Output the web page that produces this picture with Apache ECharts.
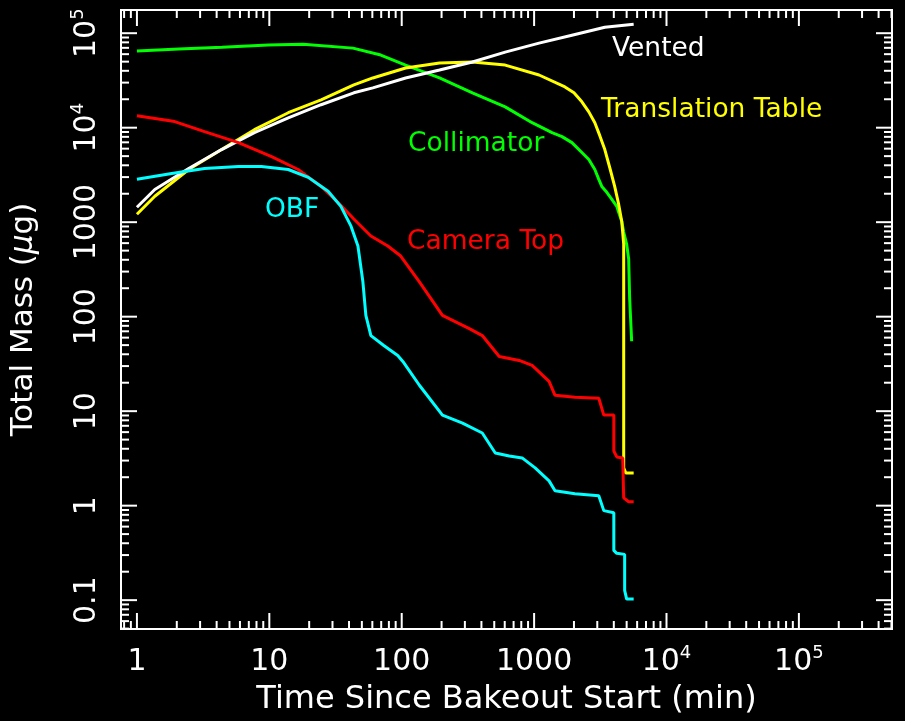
<!DOCTYPE html>
<html>
<head>
<meta charset="utf-8">
<script src="https://cdn.jsdelivr.net/npm/echarts@6/dist/echarts.min.js"></script>
<style>
  html, body { margin: 0; padding: 0; background: #000; }
  #chart { width: 905px; height: 721px; }
</style>
</head>
<body>
<div id="chart"></div>
<script>
// Time since bakeout start (min) and total outgassed mass (µg) for each component
const collimatorTime = [1, 2.07, 4.4, 9.8, 18, 42.8, 69.5, 107, 193, 342, 605, 966, 1365, 1625, 1930, 2295, 2590, 2875, 3080, 3245, 3540, 3855, 4210, 4350, 4590, 4750, 5000, 5180, 5270, 5455];
const collimatorMass = [64700, 68000, 71000, 74800, 76600, 69500, 58700, 46000, 33600, 23400, 16600, 11300, 8860, 8040, 6950, 5460, 4600, 3610, 2840, 2390, 2070, 1750, 1470, 1270, 1025, 785, 587, 408, 155, 55];

const tableTime = [1, 1.365, 2.46, 4.36, 7.71, 13.9, 24.6, 43.5, 60.5, 107, 193, 342, 605, 1090, 1710, 2000, 2295, 2590, 2875, 3135, 3420, 3725, 4060, 4350, 4590, 4750, 4750, 4750, 4750, 4920, 5650];
const tableMass = [1213, 1880, 3610, 5870, 9530, 14400, 19700, 28400, 33600, 42800, 48300, 49500, 46000, 36100, 27000, 23400, 18800, 14700, 11300, 8240, 5870, 3790, 2390, 1550, 1025, 587, 320, 36, 2.51, 2.22, 2.22];

const ventedTime = [1, 1.365, 2.46, 4.36, 7.71, 13.9, 24.6, 43.5, 60.5, 107, 193, 342, 605, 1090, 1930, 3420, 5650];
const ventedMass = [1440, 2220, 3700, 5870, 8860, 12700, 17500, 23400, 26400, 33600, 40800, 49500, 63100, 78500, 95300, 115700, 124500];

const cameraTime = [1, 1.93, 3.24, 5.85, 10.4, 16.5, 24.6, 33, 43.5, 58.5, 78.5, 98.3, 136, 203, 324, 406, 545, 771, 966, 1297, 1439, 2033, 3080, 3360, 4000, 4000, 4210, 4670, 4750, 5180, 5650];
const cameraMass = [13400, 11600, 9080, 6950, 4950, 3610, 2390, 1620, 1080, 713, 559, 438, 234, 103, 74.8, 63.1, 37.9, 34.4, 30.5, 20.7, 14.7, 14.0, 13.7, 9.08, 9.08, 3.79, 3.28, 3.2, 1.21, 1.10, 1.10];

const obfTime = [1, 1.83, 3.24, 5.85, 8.71, 13.9, 19.7, 27.8, 34.7, 41.4, 46.7, 50.9, 53.6, 58.5, 73.2, 93.3, 102, 136, 203, 288, 406, 509, 649, 812, 1018, 1297, 1439, 2033, 3080, 3360, 4000, 4000, 4210, 4830, 4830, 5000, 5650];
const obfMass = [2840, 3280, 3700, 3880, 3880, 3610, 2980, 2120, 1470, 907, 559, 234, 103, 63.1, 49.5, 38.8, 33.6, 18.8, 9.08, 7.48, 5.87, 3.61, 3.36, 3.20, 2.51, 1.83, 1.44, 1.34, 1.27, 0.886, 0.843, 0.336, 0.313, 0.305, 0.127, 0.1026, 0.1026];

const seriesNames = ['Collimator', 'Translation Table', 'Vented', 'Camera Top', 'OBF'];
const seriesColors = ['#00ff00', '#ffff00', '#ffffff', '#ff0000', '#00ffff'];

// Axis ranges
const xRange = [0.758, 5.05e5];
const yRange = [0.0495, 1.76e5];

const FONT = 'DejaVu Sans';

function pairs(t, m) { return t.map((v, i) => [v, m[i]]); }

// Decade (major) and 2..9 (minor) tick values inside a range
function logTicks(range) {
  const major = [], minor = [];
  const k0 = Math.floor(Math.log10(range[0])), k1 = Math.ceil(Math.log10(range[1]));
  for (let k = k0; k <= k1; k++) {
    for (let d = 1; d <= 9; d++) {
      const v = d * Math.pow(10, k);
      if (v < range[0] || v > range[1]) continue;
      (d === 1 ? major : minor).push(v);
    }
  }
  return { major, minor };
}

const xt = logTicks(xRange), yt = logTicks(yRange);
// [x, y, kind] kind: 0 x-major, 1 x-minor, 2 y-major, 3 y-minor
const tickData = []
  .concat(xt.major.map(v => [v, 1, 0]))
  .concat(xt.minor.map(v => [v, 1, 1]))
  .concat(yt.major.map(v => [1, v, 2]))
  .concat(yt.minor.map(v => [1, v, 3]));

function powLabel(v) {
  const e = Math.log10(v);
  const k = Math.round(e);
  if (Math.abs(e - k) > 1e-6) return '';
  if (k >= 4) return '{b|10}{s|' + k + '}';
  const txt = k < 0 ? Math.pow(10, k).toFixed(-k) : String(Math.round(Math.pow(10, k)));
  return '{b|' + txt + '}';
}

const labelRich = {
  b: { fontFamily: FONT, fontSize: 30, color: '#fff', lineHeight: 36 },
  s: { fontFamily: FONT, fontSize: 18, color: '#fff', lineHeight: 18, verticalAlign: 'top' }
};

const chart = echarts.init(document.getElementById('chart'), null, { renderer: 'canvas' });

const lineSeries = [
  pairs(collimatorTime, collimatorMass),
  pairs(tableTime, tableMass),
  pairs(ventedTime, ventedMass),
  pairs(cameraTime, cameraMass),
  pairs(obfTime, obfMass)
].map((data, i) => ({
  name: seriesNames[i],
  type: 'line',
  data: data,
  showSymbol: false,
  symbol: 'none',
  lineStyle: { color: seriesColors[i], width: 3 },
  z: 3 + i
}));

const tickSeries = {
  type: 'custom',
  silent: true,
  clip: false,
  z: 20,
  data: tickData,
  renderItem: function (params, api) {
    const cs = params.coordSys;
    const kind = api.value(2);
    const p = api.coord([api.value(0), api.value(1)]);
    const len = (kind === 0 || kind === 2) ? 16 : 8;
    const style = { stroke: '#fff', lineWidth: 2 };
    let segs;
    if (kind < 2) {
      const x = p[0], yb = cs.y + cs.height, yt0 = cs.y;
      segs = [[x, yb, x, yb - len], [x, yt0, x, yt0 + len]];
    } else {
      const y = p[1], xl = cs.x, xr = cs.x + cs.width;
      segs = [[xl, y, xl + len, y], [xr, y, xr - len, y]];
    }
    return {
      type: 'group',
      children: segs.map(s => ({
        type: 'line',
        shape: { x1: s[0], y1: s[1], x2: s[2], y2: s[3] },
        style: style
      }))
    };
  }
};

const annotations = [
  { text: 'Vented', left: 612, top: 47, color: '#ffffff' },
  { text: 'Translation Table', left: 601, top: 108, color: '#ffff00' },
  { text: 'Collimator', left: 408, top: 142, color: '#00ff00' },
  { text: 'Camera Top', left: 407, top: 240, color: '#ff0000' },
  { text: 'OBF', left: 265, top: 208, color: '#00ffff' }
];

chart.setOption({
  animation: false,
  backgroundColor: '#000',
  grid: {
    left: 118, top: 10, right: 13, bottom: 89,
    show: true, borderColor: '#fff', borderWidth: 2, backgroundColor: '#000'
  },
  xAxis: {
    type: 'log',
    logBase: 10,
    min: xRange[0],
    max: xRange[1],
    name: 'Time Since Bakeout Start (min)',
    nameLocation: 'middle',
    nameGap: 55,
    nameTextStyle: { fontFamily: FONT, fontSize: 32, color: '#fff' },
    axisLine: { show: false },
    axisTick: { show: false },
    splitLine: { show: false },
    minorTick: { show: false },
    axisLabel: {
      margin: 15,
      formatter: powLabel,
      rich: labelRich,
      showMinLabel: false,
      showMaxLabel: false,
      hideOverlap: false
    }
  },
  yAxis: {
    type: 'log',
    logBase: 10,
    min: yRange[0],
    max: yRange[1],
    name: 'Total Mass ({i|μ}g)',
    nameLocation: 'middle',
    nameRotate: 90,
    nameGap: 82,
    nameTextStyle: {
      fontFamily: FONT, fontSize: 31, color: '#fff',
      rich: { i: { fontFamily: FONT, fontSize: 31, color: '#fff', fontStyle: 'italic' } }
    },
    axisLine: { show: false },
    axisTick: { show: false },
    splitLine: { show: false },
    minorTick: { show: false },
    axisLabel: {
      rotate: 90,
      margin: 16,
      formatter: powLabel,
      rich: labelRich,
      showMinLabel: false,
      showMaxLabel: false,
      hideOverlap: false
    }
  },
  graphic: annotations.map(a => ({
    type: 'text',
    left: a.left,
    top: a.top - 11,
    z: 50,
    style: {
      text: a.text,
      fill: a.color,
      font: '26.5px "' + FONT + '"',
      textVerticalAlign: 'top'
    }
  })),
  series: lineSeries.concat([tickSeries])
});
</script>
</body>
</html>
